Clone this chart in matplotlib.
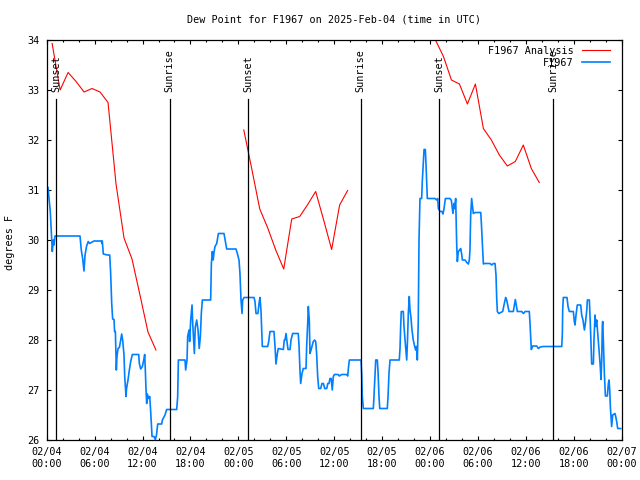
import matplotlib
matplotlib.use("Agg")
import matplotlib.pyplot as plt
import numpy as np

plt.rcParams['font.family'] = ['DejaVu Sans Mono']

# ---- data (hours since 2025-02-04 00:00 UTC) ----
analysis_hours_1 = [0.68, 1.68, 2.68, 3.68, 4.68, 5.68, 6.68, 7.68, 8.68, 9.68, 10.68, 11.68, 12.68, 13.68]
analysis_vals_1 = [33.93, 33.0, 33.35, 33.17, 32.96, 33.03, 32.96, 32.75, 31.12, 30.04, 29.62, 28.9, 28.16, 27.8]
analysis_hours_2 = [24.68, 25.68, 26.68, 27.68, 28.68, 29.68, 30.68, 31.68, 32.68, 33.68, 34.68, 35.68, 36.68, 37.68]
analysis_vals_2 = [32.2, 31.42, 30.62, 30.24, 29.8, 29.42, 30.42, 30.47, 30.71, 30.97, 30.4, 29.81, 30.7, 30.99]
analysis_hours_3 = [48.68, 49.68, 50.68, 51.68, 52.68, 53.68, 54.68, 55.68, 56.68, 57.68, 58.68, 59.68, 60.68, 61.68]
analysis_vals_3 = [34.0, 33.67, 33.2, 33.12, 32.72, 33.12, 32.23, 32.0, 31.7, 31.48, 31.57, 31.9, 31.43, 31.15]

obs_hours = [
    0.16, 0.45, 0.54, 0.70, 0.83, 0.90, 1.04, 4.17, 4.33, 4.50, 4.67, 4.80, 5.00, 5.20, 5.37, 5.60,
    5.92, 6.85, 6.90, 6.96, 7.09, 7.60, 7.89, 8.00, 8.14, 8.26, 8.43, 8.50, 8.60, 8.68, 8.72, 8.80,
    8.93, 9.10, 9.27, 9.39, 9.51, 9.68, 9.77, 9.93, 10.00, 10.18, 10.35, 10.52, 10.72, 11.52, 11.60,
    11.77, 11.98, 12.15, 12.27, 12.35, 12.43, 12.52, 12.60, 12.77, 12.90, 13.02, 13.19, 13.44, 13.60,
    13.75, 13.90, 14.40, 14.49, 14.81, 15.02, 16.28, 16.40, 16.49, 17.32, 17.40, 17.57, 17.65, 17.82,
    17.90, 18.03, 18.20, 18.28, 18.49, 18.60, 18.78, 18.95, 19.10, 19.24, 19.36, 19.49, 20.53, 20.62,
    20.74, 20.85, 20.95, 21.07, 21.29, 21.50, 22.20, 22.45, 22.54, 23.70, 23.87, 24.08, 24.20, 24.33,
    24.46, 24.54, 24.71, 25.96, 26.08, 26.21, 26.45, 26.62, 26.71, 26.83, 26.92, 27.00, 27.67, 27.80,
    27.96, 28.46, 28.59, 28.71, 28.88, 29.00, 29.63, 29.75, 29.84, 29.97, 30.10, 30.22, 30.47, 30.59,
    30.80, 31.50, 31.60, 31.72, 31.80, 31.97, 32.13, 32.47, 32.55, 32.68, 32.76, 32.88, 32.97, 33.10,
    33.26, 33.38, 33.55, 33.68, 33.80, 33.93, 34.06, 34.31, 34.47, 34.65, 34.81, 35.06, 35.20, 35.35,
    35.47, 35.62, 35.76, 35.89, 36.02, 36.50, 36.64, 36.94, 37.57, 37.69, 37.82, 37.90, 39.36, 39.44,
    39.52, 39.65, 40.90, 40.98, 41.11, 41.20, 41.40, 41.50, 41.61, 41.70, 42.65, 42.74, 42.86, 42.99,
    44.15, 44.24, 44.33, 44.40, 44.65, 44.74, 44.87, 45.08, 45.18, 45.28, 45.40, 45.49, 45.60, 45.74,
    45.90, 46.08, 46.20, 46.30, 46.41, 46.53, 46.62, 46.74, 46.95, 47.04, 47.16, 47.25, 47.41, 47.50,
    47.66, 48.62, 48.84, 48.96, 49.04, 49.25, 49.50, 49.62, 49.75, 49.92, 50.50, 50.67, 50.79, 50.87,
    51.00, 51.10, 51.21, 51.34, 51.42, 51.54, 51.70, 51.84, 51.95, 52.05, 52.38, 52.60, 52.80, 52.92,
    53.00, 53.09, 53.21, 53.30, 53.42, 53.63, 54.35, 54.43, 54.60, 54.68, 54.80, 55.52, 55.72, 55.93,
    56.14, 56.26, 56.35, 56.43, 56.60, 57.10, 57.30, 57.47, 57.60, 57.72, 57.89, 58.43, 58.56, 58.68,
    58.80, 58.93, 59.48, 59.70, 59.90, 60.43, 60.52, 60.60, 60.68, 60.86, 61.36, 61.56, 61.80, 62.18,
    64.49, 64.57, 64.61, 64.69, 65.15, 65.28, 65.44, 65.94, 66.07, 66.15, 66.28, 66.44, 66.87, 66.99,
    67.15, 67.33, 67.45, 67.63, 67.70, 67.95, 68.07, 68.19, 68.24, 68.45, 68.53, 68.66, 68.75, 68.87,
    69.00, 69.16, 69.29, 69.41, 69.50, 69.57, 69.62, 69.70, 69.83, 69.96, 70.20, 70.33, 70.41, 70.50,
    70.58, 70.66, 70.74, 70.87, 71.16, 71.25, 71.37, 71.50, 71.87]
obs_vals = [
    31.05, 30.57, 30.27, 29.77, 30.00, 29.90, 30.08, 30.08, 29.80, 29.63, 29.38, 29.70, 29.88, 29.97, 29.93, 29.95,
    29.98, 29.98, 29.93, 29.98, 29.72, 29.70, 29.70, 29.37, 28.73, 28.42, 28.41, 28.17, 28.17, 27.63, 27.40, 27.67,
    27.83, 27.85, 28.00, 28.12, 28.00, 27.70, 27.27, 26.87, 27.03, 27.20, 27.40, 27.57, 27.71, 27.71, 27.53,
    27.42, 27.47, 27.60, 27.71, 27.40, 27.03, 26.73, 26.92, 26.83, 26.87, 26.57, 26.07, 26.07, 26.01,
    26.10, 26.32, 26.32, 26.40, 26.50, 26.61, 26.61, 26.87, 27.60, 27.60, 27.40, 27.60, 28.07, 28.20,
    27.97, 28.40, 28.70, 28.34, 27.73, 28.25, 28.40, 28.20, 27.83, 28.07, 28.53, 28.80, 28.80, 29.53,
    29.77, 29.60, 29.75, 29.87, 29.93, 30.13, 30.13, 29.90, 29.82, 29.82, 29.73, 29.60, 29.33, 28.80,
    28.53, 28.80, 28.85, 28.85, 28.77, 28.53, 28.53, 28.77, 28.85, 28.60, 28.20, 27.87, 27.87, 27.97,
    28.17, 28.17, 27.87, 27.52, 27.73, 27.83, 27.81, 28.00, 28.00, 28.13, 27.95, 27.81, 27.81, 28.00,
    28.13, 28.13, 27.87, 27.37, 27.13, 27.33, 27.43, 27.43, 27.87, 28.33, 28.67, 28.40, 27.73, 27.80,
    27.90, 27.97, 28.00, 27.97, 27.73, 27.27, 27.03, 27.03, 27.13, 27.13, 27.03, 27.03, 27.13, 27.13,
    27.23, 27.23, 27.00, 27.27, 27.31, 27.31, 27.28, 27.31, 27.31, 27.28, 27.50, 27.60, 27.60, 27.33,
    26.87, 26.63, 26.63, 26.87, 27.33, 27.60, 27.60, 27.33, 26.87, 26.63, 26.63, 26.87, 27.33, 27.60,
    27.60, 27.83, 28.30, 28.57, 28.57, 28.27, 28.00, 27.60, 28.00, 28.53, 28.87, 28.60, 28.47, 28.20,
    28.00, 27.87, 27.80, 27.87, 27.60, 28.40, 30.00, 30.83, 30.83, 31.20, 31.57, 31.81, 31.81, 31.50,
    30.83, 30.83, 30.80, 30.83, 30.63, 30.57, 30.57, 30.52, 30.63, 30.83, 30.83, 30.79, 30.63, 30.53,
    30.73, 30.63, 30.83, 29.90, 29.57, 29.77, 29.80, 29.83, 29.73, 29.60, 29.60, 29.55, 29.52, 29.60,
    29.80, 30.50, 30.83, 30.70, 30.53, 30.55, 30.55, 30.33, 29.80, 29.52, 29.53, 29.53, 29.50, 29.53,
    29.53, 29.30, 28.83, 28.57, 28.53, 28.57, 28.73, 28.85, 28.80, 28.70, 28.57, 28.57, 28.70, 28.81,
    28.70, 28.57, 28.57, 28.53, 28.57, 28.57, 28.33, 28.07, 27.81, 27.88, 27.88, 27.83, 27.86, 27.87,
    27.87, 28.13, 28.60, 28.85, 28.85, 28.67, 28.57, 28.57, 28.37, 28.30, 28.50, 28.70, 28.70, 28.50,
    28.40, 28.20, 28.33, 28.60, 28.80, 28.80, 28.33, 27.80, 27.52, 27.52, 28.00, 28.50, 28.27, 28.40,
    28.13, 27.80, 27.53, 27.21, 27.60, 28.27, 28.37, 28.00, 27.33, 26.88, 26.88, 27.13, 27.20, 27.00,
    26.67, 26.47, 26.27, 26.50, 26.53, 26.47, 26.37, 26.23, 26.23]

sun_hours = [1.17, 15.4, 25.2, 39.3, 49.15, 63.4]
sun_labels = ["Sunset", "Sunrise", "Sunset", "Sunrise", "Sunset", "Sunrise"]

tick_hours = list(range(0, 73, 6))
tick_labels = ["02/04\n00:00", "02/04\n06:00", "02/04\n12:00", "02/04\n18:00",
               "02/05\n00:00", "02/05\n06:00", "02/05\n12:00", "02/05\n18:00",
               "02/06\n00:00", "02/06\n06:00", "02/06\n12:00", "02/06\n18:00",
               "02/07\n00:00"]
y_ticks = list(range(26, 35))

RED = "#ff0000"
BLUE = "#0080ff"
FS = 7.3

fig = plt.figure(figsize=(6.4, 4.8), dpi=100)
L, R, T, B = 46.7, 621.7, 40, 440
ax = fig.add_axes([L / 640, 1 - B / 480, (R - L) / 640, (B - T) / 480])

ax.plot(analysis_hours_1, analysis_vals_1, color=RED, lw=0.8, label="F1967 Analysis")
ax.plot(analysis_hours_2, analysis_vals_2, color=RED, lw=0.8)
ax.plot(analysis_hours_3, analysis_vals_3, color=RED, lw=0.8)
ax.plot(obs_hours, obs_vals, color=BLUE, lw=1.2, label="F1967")

for h, lab in zip(sun_hours, sun_labels):
    ax.plot([h, h], [26, 32.82], color="black", lw=0.9)
    ax.text(h, 32.96, lab, rotation=90, ha="center", va="bottom", fontsize=FS)

ax.set_xlim(0, 72)
ax.set_ylim(26, 34)
ax.set_xticks(tick_hours)
ax.set_xticklabels(tick_labels, fontsize=FS, linespacing=1.25)
ax.set_xticks(list(range(0, 73, 2)), minor=True)
ax.set_yticks(y_ticks)
ax.set_yticklabels([str(v) for v in y_ticks], fontsize=FS)
ax.tick_params(axis="both", which="major", direction="in", length=3, width=0.8,
               top=True, right=True, color="black")
ax.tick_params(axis="x", which="major", pad=5)
ax.tick_params(axis="y", which="major", pad=5)
ax.tick_params(axis="x", which="minor", direction="in", length=1.7, width=0.8, top=True)
for s in ax.spines.values():
    s.set_linewidth(0.9)

fig.text((L + R) / 2 / 640, 1 - 20 / 480, "Dew Point for F1967 on 2025-Feb-04 (time in UTC)",
         ha="center", va="center", fontsize=FS)
fig.text(10 / 640, 1 - 242 / 480, "degrees F", rotation=90, ha="center", va="center", fontsize=FS)

leg = ax.legend(loc="upper right", bbox_to_anchor=((610 - L) / (R - L), 1 - 6 / 400),
                frameon=False, markerfirst=False, fontsize=FS, handlelength=2.8,
                handletextpad=0.8, borderpad=0, borderaxespad=0, labelspacing=0.15)
for t in leg.get_texts():
    t.set_ha("right")

fig.savefig("out.png", dpi=100)
